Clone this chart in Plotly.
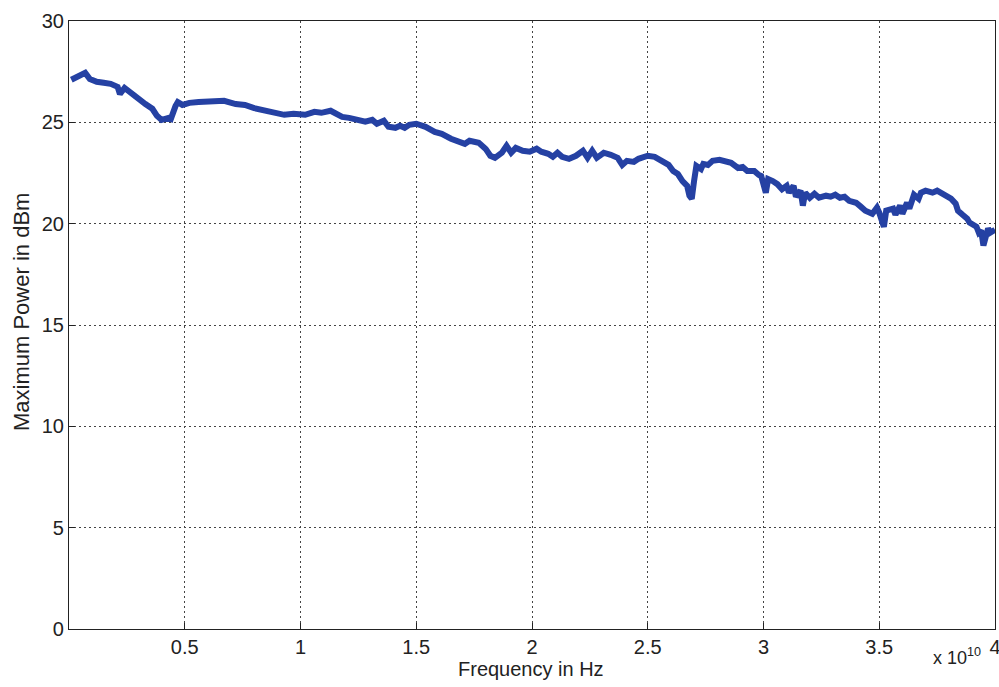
import plotly.graph_objects as go

# Frequency in units of 1e10 Hz
freq = [0.01, 0.04, 0.07, 0.09, 0.12, 0.15, 0.18, 0.21, 0.22, 0.24, 0.26, 0.29, 0.33, 0.36, 0.38, 0.40,
        0.43, 0.44, 0.46, 0.47, 0.49, 0.52, 0.56, 0.63, 0.67, 0.72, 0.76, 0.80, 0.85, 0.89, 0.93, 0.97,
        1.02, 1.06, 1.09, 1.13, 1.15, 1.18, 1.21, 1.25, 1.28, 1.31, 1.33, 1.36, 1.38, 1.41, 1.43, 1.45,
        1.47, 1.50, 1.54, 1.58, 1.61, 1.65, 1.67, 1.69, 1.71, 1.73, 1.77, 1.80, 1.82, 1.84, 1.87, 1.89,
        1.91, 1.93, 1.96, 1.99, 2.02, 2.04, 2.07, 2.09, 2.11, 2.13, 2.16, 2.19, 2.22, 2.24, 2.26, 2.28,
        2.31, 2.34, 2.37, 2.39, 2.41, 2.44, 2.46, 2.50, 2.53, 2.56, 2.59, 2.61, 2.63, 2.65, 2.67, 2.68,
        2.69, 2.70, 2.71, 2.73, 2.74, 2.76, 2.78, 2.81, 2.84, 2.86, 2.89, 2.91, 2.93, 2.96, 2.98, 2.99,
        3.01, 3.02, 3.04, 3.06, 3.08, 3.10, 3.11, 3.13, 3.14, 3.16, 3.17, 3.18, 3.20, 3.22, 3.24, 3.27,
        3.29, 3.31, 3.33, 3.35, 3.37, 3.40, 3.42, 3.44, 3.47, 3.49, 3.50, 3.52, 3.53, 3.56, 3.57, 3.59,
        3.60, 3.62, 3.63, 3.65, 3.67, 3.68, 3.70, 3.73, 3.75, 3.78, 3.81, 3.83, 3.84, 3.86, 3.88, 3.89,
        3.92, 3.93, 3.94, 3.95, 3.97, 3.98, 4.00]
power = [27.1, 27.24, 27.44, 27.14, 27.0, 26.95, 26.9, 26.75, 26.4, 26.7, 26.55, 26.26, 25.9, 25.67, 25.32, 25.12,
         25.22, 25.17, 25.8, 26.0, 25.86, 25.96, 26.0, 26.0, 26.06, 25.9, 25.86, 25.7, 25.57, 25.42, 25.37, 25.42,
         25.37, 25.52, 25.47, 25.57, 25.47, 25.27, 25.22, 25.12, 25.03, 25.12, 24.93, 25.08, 24.78, 24.73, 24.83, 24.73,
         24.88, 24.93, 24.78, 24.53, 24.43, 24.19, 24.09, 24.04, 23.94, 24.09, 23.99, 23.69, 23.35, 23.25, 23.5, 23.84,
         23.5, 23.74, 23.6, 23.55, 23.7, 23.55, 23.45, 23.3, 23.5, 23.3, 23.2, 23.35, 23.6, 23.25, 23.6, 23.25,
         23.5, 23.4, 23.25, 22.9, 23.1, 23.05, 23.2, 23.35, 23.3, 23.1, 22.9, 22.6, 22.45, 22.1, 21.87, 21.38,
         21.23, 22.1, 22.85, 22.7, 22.95, 22.9, 23.1, 23.15, 23.1, 23.0, 22.75, 22.8, 22.6, 22.6, 22.4, 22.35,
         21.53, 22.2, 22.1, 21.95, 21.7, 21.87, 21.53, 21.87, 21.33, 21.63, 20.89, 21.53, 21.28, 21.48, 21.28, 21.38,
         21.33, 21.43, 21.28, 21.33, 21.13, 21.03, 20.84, 20.64, 20.49, 20.79, 20.54, 19.85, 20.64, 20.74, 20.44, 20.89,
         20.49, 21.03, 20.74, 21.43, 21.23, 21.53, 21.63, 21.53, 21.63, 21.43, 21.23, 20.99, 20.64, 20.44, 20.25, 20.05,
         19.85, 19.56, 19.66, 18.92, 19.76, 19.56, 19.7]

x_ticks = [0.5, 1, 1.5, 2, 2.5, 3, 3.5, 4]
x_ticktext = ["0.5", "1", "1.5", "2", "2.5", "3", "3.5", "4"]
y_ticks = [0, 5, 10, 15, 20, 25, 30]

FONT = "Liberation Sans, Arial, sans-serif"
W, H = 999, 687
L, R, T, B = 69, 0, 21, 58
PW, PH = W - L - R, H - T - B


def px_to_paper(px, py):
    return (px - L) / PW, (H - B - py) / PH


fig = go.Figure()
fig.add_trace(go.Scatter(x=freq, y=power, mode="lines",
                         line=dict(color="#2541a3", width=6), showlegend=False))

axis_common = dict(showline=True, linecolor="#222", linewidth=1.2, mirror=True,
                   showgrid=True, gridcolor="#444", griddash="2px,3px", gridwidth=1,
                   ticks="inside", ticklen=6, tickcolor="#222", zeroline=False,
                   ticklabeloverflow="allow", automargin=False,
                   tickfont=dict(family=FONT, size=20, color="#222"))

xt_x, xt_y = px_to_paper(531, 669)
yt_x, yt_y = px_to_paper(22, 312)
ex_x, ex_y = px_to_paper(957, 656)

fig.update_layout(
    width=W, height=H,
    margin=dict(l=L, r=R, t=T, b=B, pad=0),
    paper_bgcolor="white", plot_bgcolor="white",
    xaxis=dict(range=[0.0, 4.0], tickvals=x_ticks, ticktext=x_ticktext,
               domain=[0, 926 / PW], **axis_common),
    yaxis=dict(range=[0, 30], tickvals=y_ticks, **axis_common),
    annotations=[
        dict(text="Frequency in Hz", x=xt_x, y=xt_y, xref="paper", yref="paper",
             xanchor="center", yanchor="middle", showarrow=False,
             font=dict(family=FONT, size=20, color="#222")),
        dict(text="Maximum Power in dBm", x=yt_x, y=yt_y, xref="paper", yref="paper",
             xanchor="center", yanchor="middle", showarrow=False, textangle=-90,
             font=dict(family=FONT, size=22, color="#222")),
        dict(text="x 10<sup>10</sup>", x=ex_x, y=ex_y, xref="paper", yref="paper",
             xanchor="center", yanchor="middle", showarrow=False,
             font=dict(family=FONT, size=18, color="#222")),
    ],
)

fig.write_html("out.html")
